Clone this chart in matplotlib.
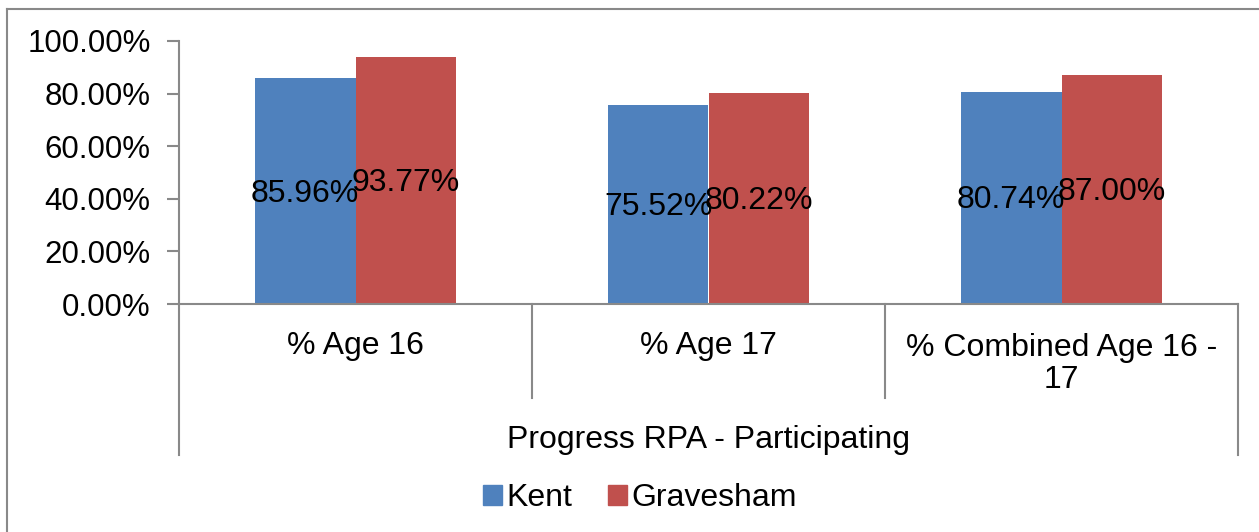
import matplotlib.pyplot as plt
from matplotlib.patches import Patch
from matplotlib.lines import Line2D

plt.rcParams['font.family'] = ['Liberation Sans', 'DejaVu Sans']

# data
categories = ['% Age 16', '% Age 17', '% Combined Age 16 -\n17']
kent = [85.96, 75.52, 80.74]
gravesham = [93.77, 80.22, 87.00]
group_label = 'Progress RPA - Participating'

blue = '#4F81BD'
red = '#C0504D'
grey = '#898989'
fs = 23

W, H = 1259, 532
fig = plt.figure(figsize=(W / 100, H / 100), dpi=100)

# outer chart border (cut off at right and bottom)
fig.add_artist(Line2D([7 / W, 7 / W], [0, 1 - 9 / H], color=grey, lw=1.5))
fig.add_artist(Line2D([7 / W, 1], [1 - 9 / H, 1 - 9 / H], color=grey, lw=1.5))

ax = fig.add_axes([179 / W, 1 - 304 / H, (1238 - 179) / W, (304 - 41) / H])

w = 1 / 3.5
centers = [i + 0.5 for i in range(len(categories))]
kx = [c - w / 2 for c in centers]
gx = [c + w / 2 for c in centers]
ax.bar(kx, kent, width=w, color=blue, label='Kent')
ax.bar(gx, gravesham, width=w, color=red, label='Gravesham')

for x, v in zip(kx + gx, kent + gravesham):
    ax.text(x, v / 2 - 1, f'{v:.2f}%', ha='center', va='center', fontsize=fs)

ax.set_xlim(0, len(categories))
ax.set_ylim(0, 100)
ax.set_yticks(range(0, 101, 20))
ax.set_yticklabels([f'{t:.2f}%' for t in range(0, 101, 20)], fontsize=22.5)
ax.set_xticks([])
ax.tick_params(axis='y', length=9, width=1.5, color=grey, pad=11.5)

for s in ['top', 'right']:
    ax.spines[s].set_visible(False)
for s in ['left', 'bottom']:
    ax.spines[s].set_color(grey)
    ax.spines[s].set_linewidth(1.5)

# category separators and labels below the axis
tr = ax.get_xaxis_transform()
for i in range(len(categories) + 1):
    bottom = -0.574 if i in (0, len(categories)) else -0.357
    ax.plot([i, i], [0, bottom], color=grey, lw=1.5, transform=tr, clip_on=False)

for c, lab in zip(centers, categories):
    y = -0.16 if '\n' not in lab else -0.227
    ax.text(c, y, lab, ha='center', va='center', fontsize=fs, transform=tr,
            linespacing=1.1)

ax.text(len(categories) / 2, -0.518, group_label, ha='center', va='center',
        fontsize=fs, transform=tr)

handles = [Patch(color=blue, label='Kent'), Patch(color=red, label='Gravesham')]
fig.legend(handles=handles, loc='center', bbox_to_anchor=(640 / W, 1 - 498 / H),
           ncol=2, frameon=False, fontsize=fs, handlelength=0.6, handleheight=0.6,
           handletextpad=0.15, columnspacing=1.1)

fig.savefig('out.png', dpi=100)
